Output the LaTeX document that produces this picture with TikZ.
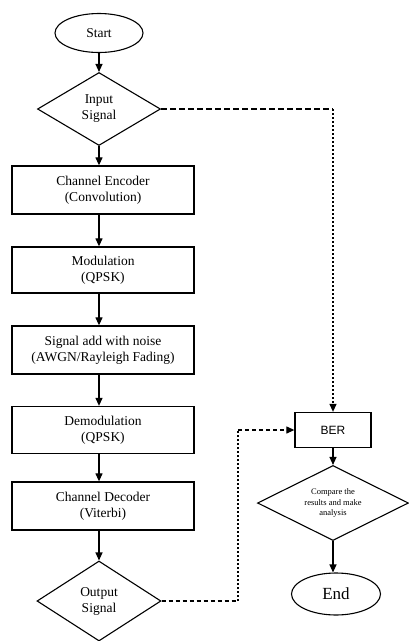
\documentclass[tikz,border=0pt]{standalone}
\usepackage{fontspec}
\setmainfont{Liberation Serif}
\newfontfamily\bersf{Liberation Sans}
\usetikzlibrary{shapes.geometric,arrows.meta}
\begin{document}
\begin{tikzpicture}[x=1pt,y=-1pt,
  every node/.style={inner sep=0pt,align=center,font=\fontsize{13.5}{16}\selectfont},
  box/.style={draw,line width=1.3pt,minimum width=182pt,minimum height=48pt},
  dec/.style={draw,line width=1.1pt,diamond},
  term/.style={draw,line width=1.1pt,ellipse},
  arr/.style={line width=1.2pt,-{Triangle[length=8pt,width=7pt]}},
  dashln/.style={line width=1.2pt,dash pattern=on 6pt off 3pt},
  shortdash/.style={line width=1.2pt,dash pattern=on 4pt off 3pt},
  dotln/.style={line width=1.2pt,dash pattern=on 2pt off 2pt}]
\useasboundingbox (0,0) rectangle (409,641);
\node[term,minimum width=88pt,minimum height=39pt] (start) at (99,33) {Start};
\node[dec,minimum width=123pt,minimum height=73pt] (in) at (99,109) {Input\\Signal};
\node[box] (enc) at (103,190) {Channel Encoder\\(Convolution)};
\node[box,minimum height=46pt] (mod) at (103,270) {Modulation\\(QPSK)};
\node[box] (noise) at (103,350) {Signal add with noise\\(AWGN/Rayleigh Fading)};
\node[box,minimum height=47pt] (demod) at (103,430) {Demodulation\\(QPSK)};
\node[box] (vit) at (103,506) {Channel Decoder\\(Viterbi)};
\node[dec,minimum width=124pt,minimum height=80pt] (out) at (99,601) {Output\\Signal};
\node[box,minimum width=76pt,minimum height=35pt,font=\bersf\fontsize{12}{14}\selectfont] (ber) at (333,430) {BER};
\node[dec,aspect=2,minimum width=151pt,minimum height=75pt,font=\fontsize{8.5}{10.5}\selectfont] (cmp) at (333,503) {Compare the\\results and make\\analysis};
\node[term,minimum width=89pt,minimum height=42pt,font=\fontsize{17}{20}\selectfont] (end) at (336,594) {End};
\coordinate (c1) at (in.east -| ber);
\coordinate (c2) at (238,601);
\draw[arr] (start) -- (in);
\draw[arr] (in.south) -- (in.south |- enc.north);
\draw[arr] (enc.south -| in) -- (mod.north -| in);
\draw[arr] (mod.south -| in) -- (noise.north -| in);
\draw[arr] (noise.south -| in) -- (demod.north -| in);
\draw[arr] (demod.south -| in) -- (vit.north -| in);
\draw[arr] (vit.south -| in) -- (out.north);
\draw[dashln] (in.east) -- (c1);
\draw[dotln,arr] (c1) -- (ber.north);
\draw[shortdash] (out.east) -- (c2);
\draw[dotln] (c2) -- (c2 |- ber);
\draw[shortdash,arr] (c2 |- ber) -- (ber.west);
\draw[arr] (ber.south) -- (ber.south |- cmp.north);
\draw[arr] (cmp.south) -- (cmp.south |- end.north);
\end{tikzpicture}
\end{document}
